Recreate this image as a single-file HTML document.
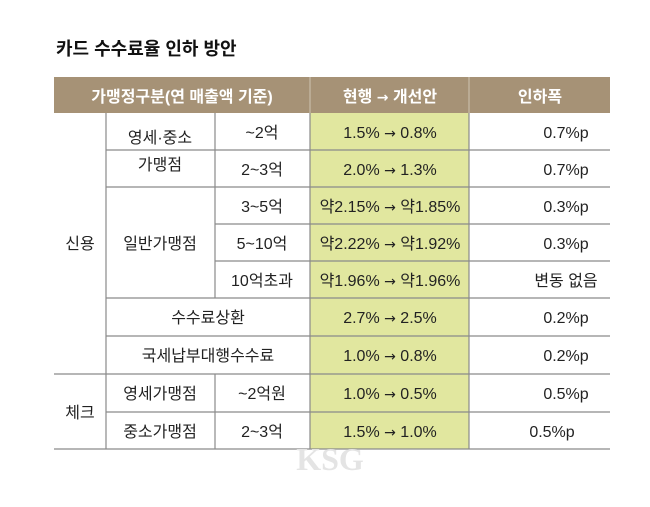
<!DOCTYPE html><html><head><meta charset="utf-8"><style>
body{margin:0;width:650px;height:502px;background:#fff;overflow:hidden}
svg text{font-family:"Liberation Sans","Noto Sans CJK KR",sans-serif;font-size:16px;fill:#222}
.a{font-family:"DejaVu Sans",sans-serif;font-size:14px}
</style></head><body>
<svg width="650" height="502" xmlns="http://www.w3.org/2000/svg">
<text x="56" y="55" style="font-size:18px;font-weight:bold;fill:#111">카드 수수료율 인하 방안</text>
<rect x="54" y="77" width="556" height="36" fill="#a69276"/>
<rect x="310" y="113" width="159" height="336" fill="#e1e79f"/>
<g stroke="#cfc4b3" stroke-width="1"><line x1="310" y1="77" x2="310" y2="113"/><line x1="469" y1="77" x2="469" y2="113"/></g>
<g stroke="#8a8a8a" stroke-width="1.2">
<line x1="106" y1="150" x2="610" y2="150"/>
<line x1="106" y1="187" x2="610" y2="187"/>
<line x1="215" y1="224" x2="610" y2="224"/>
<line x1="215" y1="261" x2="610" y2="261"/>
<line x1="106" y1="298" x2="610" y2="298"/>
<line x1="106" y1="336" x2="610" y2="336"/>
<line x1="54" y1="374" x2="610" y2="374"/>
<line x1="106" y1="412" x2="610" y2="412"/>
<line x1="54" y1="449" x2="610" y2="449"/>
<line x1="106" y1="113" x2="106" y2="449"/>
<line x1="215" y1="113" x2="215" y2="298"/>
<line x1="215" y1="374" x2="215" y2="449"/>
<line x1="310" y1="113" x2="310" y2="449"/>
<line x1="469" y1="113" x2="469" y2="449"/>
</g>
<g text-anchor="middle">
<text x="182" y="102" style="fill:#fff;font-weight:bold">가맹정구분(연 매출액 기준)</text>
<text x="390" y="102" style="fill:#fff;font-weight:bold">현행 <tspan class="a" style="fill:#fff">→</tspan> 개선안</text>
<text x="540" y="102" style="fill:#fff;font-weight:bold">인하폭</text>
<text x="160" y="143">영세·중소</text><text x="160" y="170">가맹점</text>
<text x="80" y="249">신용</text><text x="80" y="418">체크</text>
<text x="160" y="249">일반가맹점</text>
<text x="208" y="323">수수료상환</text>
<text x="208" y="361">국세납부대행수수료</text>
<text x="160" y="399">영세가맹점</text><text x="160" y="437">중소가맹점</text>
<text x="262" y="138">~2억</text><text x="262" y="175">2~3억</text><text x="262" y="212">3~5억</text><text x="262" y="249">5~10억</text><text x="262" y="286">10억초과</text><text x="262" y="399">~2억원</text><text x="262" y="437">2~3억</text>
<text x="390" y="138">1.5% <tspan class="a">→</tspan> 0.8%</text><text x="390" y="175">2.0% <tspan class="a">→</tspan> 1.3%</text><text x="390" y="212">약2.15% <tspan class="a">→</tspan> 약1.85%</text><text x="390" y="249">약2.22% <tspan class="a">→</tspan> 약1.92%</text><text x="390" y="286">약1.96% <tspan class="a">→</tspan> 약1.96%</text><text x="390" y="323">2.7% <tspan class="a">→</tspan> 2.5%</text><text x="390" y="361">1.0% <tspan class="a">→</tspan> 0.8%</text><text x="390" y="399">1.0% <tspan class="a">→</tspan> 0.5%</text><text x="390" y="437">1.5% <tspan class="a">→</tspan> 1.0%</text>
<text x="566" y="138">0.7%p</text><text x="566" y="175">0.7%p</text><text x="566" y="212">0.3%p</text><text x="566" y="249">0.3%p</text><text x="566" y="286">변동 없음</text><text x="566" y="323">0.2%p</text><text x="566" y="361">0.2%p</text><text x="566" y="399">0.5%p</text><text x="552" y="437">0.5%p</text>
<text x="330" y="470" style="font-family:'Liberation Serif',serif;font-weight:bold;font-size:32px;fill:#e4e4e4">KSG</text>
</g>
</svg></body></html>
